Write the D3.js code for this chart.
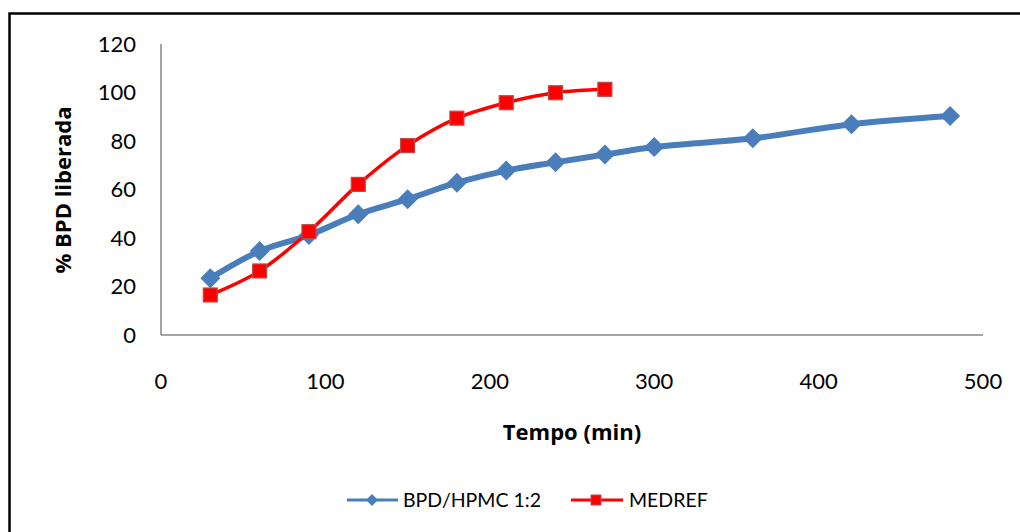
<!DOCTYPE html>
<html>
<head>
<meta charset="utf-8">
<script src="https://cdn.jsdelivr.net/npm/d3@7"></script>
<style>
  html, body { margin: 0; padding: 0; background: #fff; }
  svg { display: block; font-family: Lato, "Open Sans", sans-serif; }
</style>
</head>
<body>
<svg id="chart" width="1020" height="532"></svg>
<script>
// Release profile: % BPD released over time
const timesA = [30, 60, 90, 120, 150, 180, 210, 240, 270, 300, 360, 420, 480];
const valuesA = [23.4, 34.6, 41.2, 49.8, 56.0, 62.8, 67.8, 71.2, 74.4, 77.5, 81.1, 86.9, 90.3];
const timesB = [30, 60, 90, 120, 150, 180, 210, 240, 270];
const valuesB = [16.5, 26.4, 42.6, 62.1, 78.1, 89.4, 95.8, 99.9, 101.3];
const seriesNames = ["BPD/HPMC 1:2", "MEDREF"];
const xTicks = [0, 100, 200, 300, 400, 500];
const yTicks = [0, 20, 40, 60, 80, 100, 120];

const svg = d3.select("#chart");

// outer frame
svg.append("rect")
  .attr("x", 9.5).attr("y", 13.5)
  .attr("width", 1030).attr("height", 540)
  .attr("fill", "none").attr("stroke", "#000").attr("stroke-width", 2.5);

const x = d3.scaleLinear().domain([0, 500]).range([161, 983]);
const y = d3.scaleLinear().domain([0, 120]).range([335, 44]);

// axes
const axisColor = "#868686";
svg.append("line")
  .attr("x1", x(0)).attr("x2", x(0)).attr("y1", y(120)).attr("y2", y(0))
  .attr("stroke", axisColor).attr("stroke-width", 1.5);
svg.append("line")
  .attr("x1", x(0)).attr("x2", x(500)).attr("y1", y(0)).attr("y2", y(0))
  .attr("stroke", axisColor).attr("stroke-width", 1.5);

svg.append("g").selectAll("text").data(yTicks).join("text")
  .attr("x", 136).attr("y", d => y(d))
  .attr("dy", "0.35em")
  .attr("text-anchor", "end")
  .attr("font-size", 22).attr("fill", "#000")
  .text(d => d);

svg.append("g").selectAll("text").data(xTicks).join("text")
  .attr("x", d => x(d)).attr("y", 381)
  .attr("dy", "0.35em")
  .attr("text-anchor", "middle")
  .attr("font-size", 22).attr("fill", "#000")
  .text(d => d);

// axis titles
svg.append("text")
  .attr("transform", "translate(63,190) rotate(-90)")
  .attr("dy", "0.35em")
  .attr("text-anchor", "middle")
  .attr("font-family", "'Open Sans', sans-serif")
  .attr("font-size", 22).attr("font-weight", "bold")
  .text("% BPD liberada");

svg.append("text")
  .attr("x", 572).attr("y", 432)
  .attr("dy", "0.35em")
  .attr("text-anchor", "middle")
  .attr("font-family", "'Open Sans', sans-serif")
  .attr("font-size", 22).attr("font-weight", "bold")
  .text("Tempo (min)");

const line = d3.line()
  .x(d => x(d[0])).y(d => y(d[1]))
  .curve(d3.curveCatmullRom.alpha(0.5));

const dataA = timesA.map((t, i) => [t, valuesA[i]]);
const dataB = timesB.map((t, i) => [t, valuesB[i]]);

const blue = "#4a7ebb";
const red = "#ff0000";
const redEdge = "#be4b48";

// diamond marker path with given half-diagonal
const diamondPath = r => `M0,${-r}L${r},0L0,${r}L${-r},0Z`;

// series A: blue with diamonds
svg.append("path").datum(dataA)
  .attr("d", line)
  .attr("fill", "none").attr("stroke", blue).attr("stroke-width", 6)
  .attr("stroke-linejoin", "round");
svg.append("g").selectAll("path").data(dataA).join("path")
  .attr("transform", d => `translate(${x(d[0])},${y(d[1])})`)
  .attr("d", diamondPath(10))
  .attr("fill", blue);

// series B: red with squares
svg.append("path").datum(dataB)
  .attr("d", line)
  .attr("fill", "none").attr("stroke", red).attr("stroke-width", 3.5)
  .attr("stroke-linejoin", "round");
svg.append("g").selectAll("rect").data(dataB).join("rect")
  .attr("x", d => x(d[0]) - 7).attr("y", d => y(d[1]) - 7)
  .attr("width", 14).attr("height", 14)
  .attr("fill", red).attr("stroke", redEdge).attr("stroke-width", 1.2);

// legend
const lg = svg.append("g");
lg.append("line").attr("x1", 347).attr("x2", 398).attr("y1", 500).attr("y2", 500)
  .attr("stroke", blue).attr("stroke-width", 3);
lg.append("path").attr("transform", "translate(372,500)")
  .attr("d", diamondPath(6)).attr("fill", blue);
lg.append("text").attr("x", 403).attr("y", 500).attr("dy", "0.35em")
  .attr("font-size", 19.5).text(seriesNames[0]);

lg.append("line").attr("x1", 571).attr("x2", 623).attr("y1", 500).attr("y2", 500)
  .attr("stroke", red).attr("stroke-width", 3);
lg.append("rect").attr("x", 591).attr("y", 495).attr("width", 10).attr("height", 10)
  .attr("fill", red).attr("stroke", redEdge).attr("stroke-width", 1);
lg.append("text").attr("x", 629).attr("y", 500).attr("dy", "0.35em")
  .attr("font-size", 19.5).text(seriesNames[1]);
</script>
</body>
</html>
